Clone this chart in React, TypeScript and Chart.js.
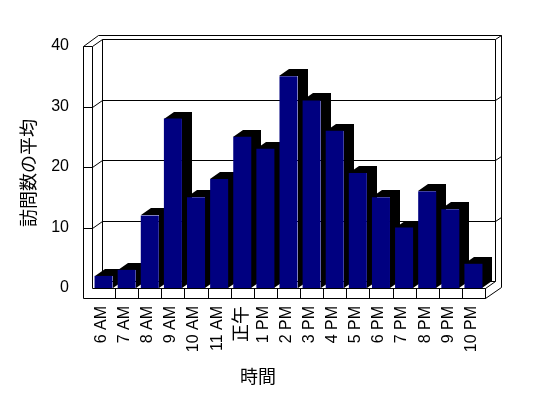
import React, { useEffect, useRef } from "react";
import { Chart, registerables } from "chart.js";
Chart.register(...registerables);

const categories = ["6 AM", "7 AM", "8 AM", "9 AM", "10 AM", "11 AM", "正午", "1 PM", "2 PM", "3 PM", "4 PM", "5 PM", "6 PM", "7 PM", "8 PM", "9 PM", "10 PM"];
const visits = [2, 3, 12, 28, 15, 18, 25, 23, 35, 31, 26, 19, 15, 10, 16, 13, 4];
const yTickValues = [0, 10, 20, 30, 40];
const xTitle = "時間";
const yTitle = "訪問数の平均";

// 3D look parameters
const DX = 10; // depth offset x
const DY = -7; // depth offset y
const WALL = 9; // left wall thickness (front view)
const FLOOR = 10; // floor thickness
const TX = 6; // back wall thickness x
const TY = -4; // back wall thickness y

const p = (v: number) => Math.round(v) + 0.5;

function seg(ctx: CanvasRenderingContext2D, x1: number, y1: number, x2: number, y2: number) {
  ctx.beginPath();
  ctx.moveTo(p(x1), p(y1));
  ctx.lineTo(p(x2), p(y2));
  ctx.stroke();
}

const frame3d = {
  id: "frame3d",
  beforeDatasetsDraw(chart: any) {
    const ctx: CanvasRenderingContext2D = chart.ctx;
    const { left, right, top, bottom } = chart.chartArea;
    const ys = chart.scales.y;
    const bl = left + DX, br = right + DX, bt = top + DY, bb = bottom + DY;
    ctx.save();
    ctx.lineWidth = 1;
    ctx.strokeStyle = "#000";
    ctx.fillStyle = "#fff";

    // back wall inner face + gridlines
    seg(ctx, bl, bt, br, bt);
    seg(ctx, br, bt, br, bb);
    seg(ctx, bl, bt, bl, bb);
    for (const v of yTickValues) {
      if (v === 0 || v === 40) continue;
      const yy = ys.getPixelForValue(v);
      seg(ctx, bl, yy + DY, br, yy + DY);
      seg(ctx, br, yy + DY, br + TX, yy + DY + TY);
      seg(ctx, left, yy, bl, yy + DY);
    }
    // back wall outer edges
    seg(ctx, left + 6, bt + TY, br + TX, bt + TY);
    seg(ctx, br, bt, br + TX, bt + TY);
    const outerBottomY = bottom + FLOOR + (br + TX - right) * (DY / DX);
    seg(ctx, br + TX, bt + TY, br + TX, outerBottomY);
    seg(ctx, br + TX, outerBottomY, right, bottom + FLOOR);

    // left wall top
    seg(ctx, left, top, bl, bt);
    seg(ctx, left - WALL, top, left + 6, bt + TY);

    // floor top face
    seg(ctx, bl, bb, br, bb);
    seg(ctx, right, bottom, br, bb);

    // front slab (left wall + floor front faces)
    ctx.beginPath();
    ctx.moveTo(p(left - WALL), p(top));
    ctx.lineTo(p(left), p(top));
    ctx.lineTo(p(left), p(bottom));
    ctx.lineTo(p(right), p(bottom));
    ctx.lineTo(p(right), p(bottom + FLOOR));
    ctx.lineTo(p(left - WALL), p(bottom + FLOOR));
    ctx.closePath();
    ctx.stroke();
    for (const v of yTickValues) {
      if (v === 0 || v === 40) continue;
      const yy = ys.getPixelForValue(v);
      seg(ctx, left - WALL, yy, left, yy);
    }
    const slot = (right - left) / categories.length;
    for (let i = 1; i <= categories.length; i++) {
      const xx = left + slot * i;
      seg(ctx, xx, bottom, xx, bottom + FLOOR);
    }

    // bar depth (black sides/tops)
    const meta = chart.getDatasetMeta(0);
    ctx.fillStyle = "#000";
    for (const bar of meta.data) {
      const { x, y, base, width } = bar.getProps(["x", "y", "base", "width"], true);
      const x0 = Math.round(x - width / 2);
      const x1 = Math.round(x + width / 2);
      const yt = Math.round(y);
      const yb = Math.round(base);
      ctx.beginPath();
      ctx.moveTo(x0, yt);
      ctx.lineTo(x0 + DX, yt + DY);
      ctx.lineTo(x1 + DX, yt + DY);
      ctx.lineTo(x1 + DX, yb + DY);
      ctx.lineTo(x1, yb);
      ctx.lineTo(x1, yt);
      ctx.closePath();
      ctx.fill();
    }
    ctx.restore();
  },
  afterDraw(chart: any) {
    const ctx: CanvasRenderingContext2D = chart.ctx;
    ctx.save();
    ctx.fillStyle = "#000";
    ctx.font = '18px "Noto Sans CJK JP"';
    ctx.textAlign = "center";
    ctx.textBaseline = "middle";
    ctx.fillText(xTitle, 258, 376);
    ctx.translate(28, 173);
    ctx.rotate(-Math.PI / 2);
    ctx.fillText(yTitle, 0, 0);
    ctx.restore();
  },
};

export default function App() {
  const ref = useRef<HTMLCanvasElement>(null);
  useEffect(() => {
    if (!ref.current) return;
    const chart = new Chart(ref.current, {
      type: "bar",
      data: {
        labels: categories,
        datasets: [
          {
            data: visits,
            backgroundColor: "#000080",
            borderWidth: 0,
            barPercentage: 0.78,
            categoryPercentage: 1,
          },
        ],
      },
      options: {
        animation: false,
        responsive: false,
        maintainAspectRatio: false,
        layout: { padding: { left: 0, right: 63, top: 46, bottom: 0 } },
        plugins: { legend: { display: false }, tooltip: { enabled: false } },
        scales: {
          x: {
            grid: { display: false, drawTicks: false },
            border: { display: false },
            ticks: {
              color: "#000",
              autoSkip: false,
              minRotation: 90,
              maxRotation: 90,
              padding: 18,
              labelOffset: -2,
              font: (c: any) =>
                c.index === 6
                  ? { family: '"Noto Sans CJK JP"', size: 18 }
                  : { family: '"Liberation Sans"', size: 16 },
            },
            afterFit: (s: any) => {
              s.height = 110;
            },
          },
          y: {
            min: 0,
            max: 40,
            grid: { display: false, drawTicks: false },
            border: { display: false },
            ticks: {
              stepSize: 10,
              color: "#000",
              padding: 23,
              font: { family: '"Liberation Sans"', size: 16 },
            },
            afterFit: (s: any) => {
              s.width = 92;
            },
          },
        },
      },
      plugins: [frame3d],
    });
    return () => chart.destroy();
  }, []);
  return (
    <div style={{ position: "fixed", left: 0, top: 0, width: 548, height: 398, background: "#fff" }}>
      <canvas ref={ref} width={548} height={398} />
    </div>
  );
}
